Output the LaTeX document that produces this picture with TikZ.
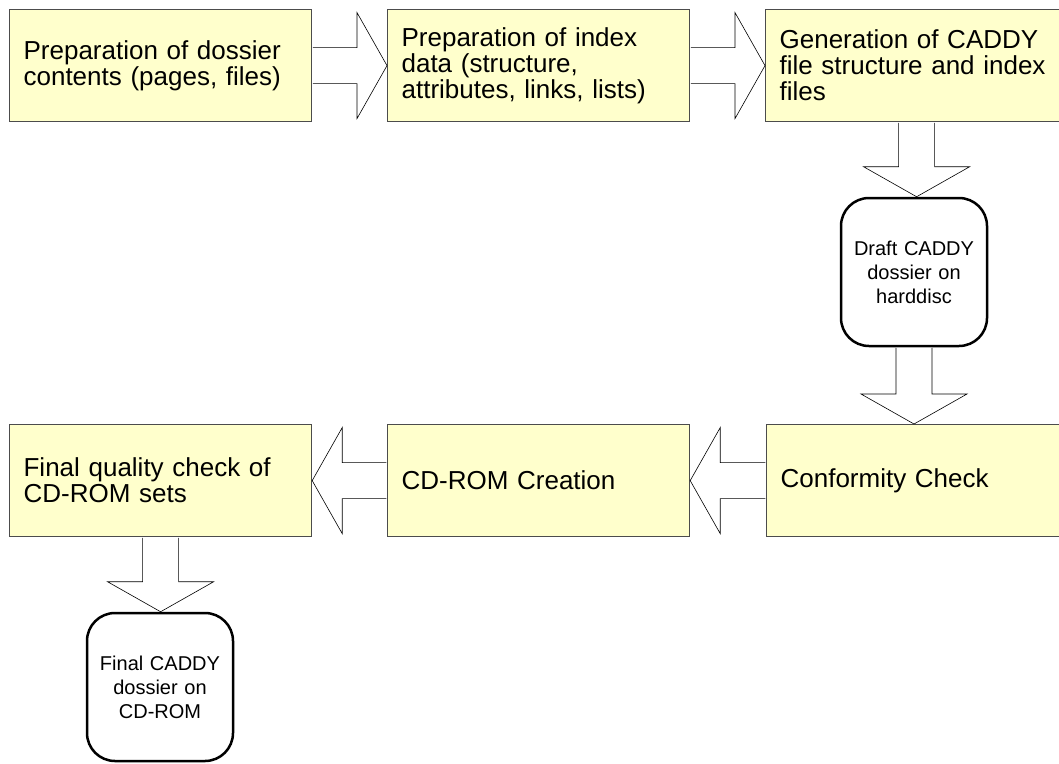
\documentclass[tikz,border=0pt]{standalone}
\usepackage{fontspec}
\setmainfont{Liberation Sans}
\usetikzlibrary{calc}
\definecolor{boxyellow}{HTML}{FFFFCC}

\tikzset{
  procbox/.style={draw=black!70, line width=1.2pt, fill=boxyellow, anchor=north west,
    minimum width=302pt, minimum height=112pt, text width=274pt, inner sep=0pt,
    align=left, font=\fontsize{26pt}{26pt}\selectfont},
  mediabox/.style={draw=black, line width=2.5pt, fill=white, rounded corners=28pt,
    minimum width=146pt, minimum height=148pt, text width=140pt, inner sep=0pt,
    align=center, font=\fontsize{20pt}{24pt}\selectfont},
  blockarrow/.style={draw=black, line width=0.6pt, fill=white, line join=miter},
}

% 右向きの矢印
\newcommand{\rarrow}[2]{%
  \draw[blockarrow] let \p1=(#1.east), \p2=(#2.west) in
    (\x1+0.6pt,\y1+18pt) -- (\x2-30pt,\y1+18pt) -- (\x2-30pt,\y1+53pt)
    -- (\x2,\y1) -- (\x2-30pt,\y1-53pt) -- (\x2-30pt,\y1-18pt) -- (\x1+0.6pt,\y1-18pt);}
% 左向きの矢印
\newcommand{\larrow}[2]{%
  \draw[blockarrow] let \p1=(#1.west), \p2=(#2.east) in
    (\x1-0.6pt,\y1+18pt) -- (\x2+30pt,\y1+18pt) -- (\x2+30pt,\y1+53pt)
    -- (\x2,\y1) -- (\x2+30pt,\y1-53pt) -- (\x2+30pt,\y1-18pt) -- (\x1-0.6pt,\y1-18pt);}
% 下向きの矢印
\newcommand{\darrow}[2]{%
  \draw[blockarrow] let \p1=(#1.south), \p2=(#2.north) in
    (\x1-18pt,\y1-0.6pt) -- (\x1-18pt,\y2+30pt) -- (\x1-53pt,\y2+30pt)
    -- (\x1,\y2) -- (\x1+53pt,\y2+30pt) -- (\x1+18pt,\y2+30pt) -- (\x1+18pt,\y1-0.6pt);}

\begin{document}
\begin{tikzpicture}[x=1pt,y=-1pt]
    \useasboundingbox (0,0) rectangle (1059,763);

    % 上の段
    \node[procbox] (prepdoc) at (9,9) {Preparation of dossier\\contents (pages, files)};
    \node[procbox] (prepidx) at (387,9) {Preparation of index\\data (structure,\\attributes, links, lists)};
    \node[procbox] (genfiles) at (765,9) {Generation of CADDY\\file structure and index\\files};

    % ハードディスク上のドシエ
    \node[mediabox] (draft) at (914,272) {Draft CADDY\\dossier on\\harddisc};

    % 下の段
    \node[procbox] (conform) at (766,424) {Conformity Check};
    \node[procbox] (cdrom) at (387,424) {CD-ROM Creation};
    \node[procbox] (quality) at (9,424) {Final quality check of\\CD-ROM sets};

    % CD-ROM上のドシエ
    \node[mediabox] (final) at (160,687) {Final CADDY\\dossier on\\CD-ROM};

    % 矢印
    \rarrow{prepdoc}{prepidx}
    \rarrow{prepidx}{genfiles}
    \darrow{genfiles}{draft}
    \darrow{draft}{conform}
    \larrow{conform}{cdrom}
    \larrow{cdrom}{quality}
    \darrow{quality}{final}
\end{tikzpicture}
\end{document}
